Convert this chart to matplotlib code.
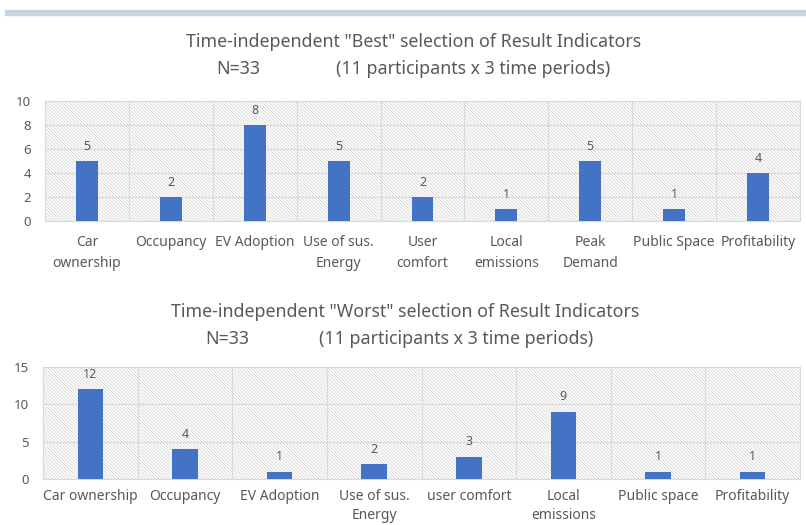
import matplotlib
matplotlib.use("Agg")
import matplotlib.pyplot as plt
from matplotlib.patches import Rectangle
import numpy as np

best_labels = ["Car\nownership", "Occupancy", "EV Adoption", "Use of sus.\nEnergy",
               "User\ncomfort", "Local\nemissions", "Peak\nDemand", "Public Space",
               "Profitability"]
best_values = [5, 2, 8, 5, 2, 1, 5, 1, 4]

worst_labels = ["Car ownership", "Occupancy", "EV Adoption", "Use of sus.\nEnergy",
                "user comfort", "Local\nemissions", "Public space", "Profitability"]
worst_values = [12, 4, 1, 2, 3, 9, 1, 1]

BAR = "#4472c4"
TXT = "#595959"
GRID = "#d9d9d9"
W, H = 806, 525

plt.rcParams["font.family"] = ["Noto Sans", "DejaVu Sans"]
plt.rcParams["hatch.linewidth"] = 0.5
plt.rcParams["hatch.color"] = "#cfcfcf"

fig = plt.figure(figsize=(W / 100, H / 100), dpi=100)

# thin band across the top
fig.patches.append(Rectangle((5 / W, 1 - 15 / H), 1, 5 / H, transform=fig.transFigure,
                             color="#c9d3e0", zorder=0))


def panel(rect, labels, values, ymax, step, barw, pad, lsp):
    l, t, r, b = rect
    ax = fig.add_axes([l / W, 1 - b / H, (r - l) / W, (b - t) / H])
    n = len(values)
    x = np.arange(n)
    ax.add_patch(Rectangle((0, 0), 1, 1, transform=ax.transAxes, facecolor="white",
                           edgecolor="#cfcfcf", hatch="\\" * 10, lw=0, zorder=0))
    ax.bar(x, values, width=barw, color=BAR, zorder=3)
    for xi, v in zip(x, values):
        ax.annotate(str(v), (xi, v), xytext=(0, 6), textcoords="offset points",
                    ha="center", va="bottom", fontsize=9, color=TXT, zorder=4)
    ax.set_xlim(-0.5, n - 0.5)
    ax.set_ylim(0, ymax)
    ax.set_yticks(np.arange(0, ymax + 1, step))
    ax.set_xticks(x)
    ax.set_xticklabels(labels, fontsize=10, color=TXT, linespacing=lsp)
    ax.set_xticks(np.arange(-0.5, n, 1), minor=True)
    ax.tick_params(axis="x", which="both", length=0, pad=pad)
    ax.tick_params(axis="y", length=0, labelsize=9.5, labelcolor=TXT, pad=10)
    ax.grid(True, axis="y", color=GRID, lw=0.8, zorder=1)
    ax.grid(True, axis="x", which="minor", color=GRID, lw=0.8, zorder=1)
    ax.grid(False, axis="x", which="major")
    for s in ax.spines.values():
        s.set_color(GRID)
    ax.set_facecolor("none")
    return ax


panel((45, 101, 800, 221), best_labels, best_values, 10, 2, 0.26, 10, 1.55)
panel((43, 367, 800, 479), worst_labels, worst_values, 15, 5, 0.27, 7, 1.35)

tfont = dict(fontsize=12.8, color=TXT, ha="center", va="center")
fig.text(414 / W, 1 - 42 / H, 'Time-independent "Best" selection of Result Indicators', **tfont)
fig.text(238 / W, 1 - 69 / H, "N=33", **tfont)
fig.text(473 / W, 1 - 69 / H, "(11 participants x 3 time periods)", **tfont)
fig.text(405 / W, 1 - 312 / H, 'Time-independent "Worst" selection of Result Indicators', **tfont)
fig.text(227 / W, 1 - 339 / H, "N=33", **tfont)
fig.text(456 / W, 1 - 339 / H, "(11 participants x 3 time periods)", **tfont)

fig.savefig("out.png", dpi=100)
